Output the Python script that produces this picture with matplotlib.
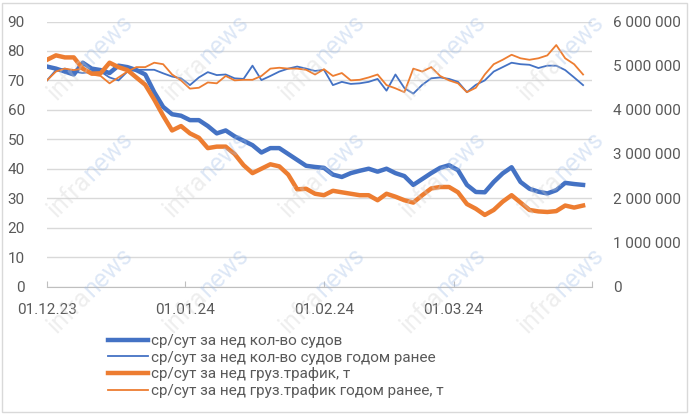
import numpy as np
import pandas as pd
import matplotlib
matplotlib.use('Agg')
import matplotlib.pyplot as plt
from matplotlib.ticker import FuncFormatter, MultipleLocator
from matplotlib.patches import Rectangle

plt.rcParams['font.family'] = ['Roboto', 'DejaVu Sans']
plt.rcParams['font.size'] = 11

# ==================== данные (каждые 2 дня) ====================
dates = pd.date_range('2023-12-01', periods=61, freq='2D')

# ср/сут за нед кол-во судов (левая ось)
ships = [74.7, 74, 73, 72, 76, 74, 73.5, 72.5, 75, 74.5, 73.5, 72,
         66, 61, 58.5, 58, 56.5, 56.5, 54.5, 52, 53, 51, 49.5, 48, 45.5,
         47, 47, 45, 43, 41, 40.6, 40.3, 38, 37.2, 38.5, 39.3, 40, 39,
         40, 38.5, 37.5, 34.5, 36.5, 38.5, 40.3, 41.2, 39.5, 34.5, 32.1,
         32, 35.5, 38.4, 40.5, 35.5, 33.2, 32.2, 31.6, 32.7, 35.2, 34.8, 34.5]

# ср/сут за нед кол-во судов годом ранее (левая ось)
ships_ly = [70, 73.5, 74, 73, 72.5, 73, 73, 71, 70, 73, 73.6, 73.6,
            73.6, 72.4, 71.3, 70.7, 68.4, 71, 72.8, 71.8, 72, 70.7, 70.5,
            75, 70.1, 71.5, 73, 74, 74.7, 74, 73.2, 73.6, 68.4, 69.5, 68.8,
            69, 69.5, 70.5, 66.5, 72, 67.4, 65.5, 68.5, 70.7, 71, 70.5, 69.5,
            66, 68.5, 70, 73, 74.5, 76, 75.5, 75.3, 74.2, 75, 75, 73.5, 71, 68.4]

# ср/сут за нед груз.трафик, т (правая ось)
cargo = [5133000, 5233000, 5187000, 5187000, 4933000, 4820000, 4827000,
         5067000, 4967000, 4900000, 4733000, 4567000, 4233000, 3867000,
         3533000, 3633000, 3467000, 3367000, 3133000, 3167000, 3167000,
         3000000, 2747000, 2567000, 2667000, 2767000, 2720000, 2533000,
         2200000, 2213000, 2100000, 2067000, 2167000, 2133000, 2100000,
         2067000, 2067000, 1953000, 2100000, 2033000, 1953000, 1900000,
         2067000, 2220000, 2253000, 2253000, 2133000, 1867000, 1760000,
         1620000, 1733000, 1920000, 2067000, 1900000, 1733000, 1700000,
         1687000, 1707000, 1833000, 1787000, 1833000]

# ср/сут за нед груз.трафик годом ранее, т (правая ось)
cargo_ly = [4667000, 4867000, 4933000, 4900000, 4933000, 4800000, 4767000,
            4600000, 4733000, 4867000, 4967000, 4967000, 5067000, 5033000,
            4800000, 4667000, 4480000, 4500000, 4620000, 4600000, 4767000,
            4667000, 4680000, 4680000, 4767000, 4933000, 4953000, 4933000,
            4933000, 4907000, 4800000, 4920000, 4767000, 4833000, 4667000,
            4680000, 4733000, 4800000, 4560000, 4487000, 4400000, 4933000,
            4867000, 4967000, 4767000, 4667000, 4600000, 4400000, 4500000,
            4800000, 5033000, 5133000, 5247000, 5167000, 5133000, 5167000,
            5233000, 5467000, 5167000, 5033000, 4800000]

labels = ['ср/сут за нед кол-во судов',
          'ср/сут за нед кол-во судов годом ранее',
          'ср/сут за нед груз.трафик, т',
          'ср/сут за нед груз.трафик годом ранее, т']

month_ticks = pd.to_datetime(['2023-12-01', '2024-01-01', '2024-02-01',
                              '2024-03-01', '2024-04-01'])
month_labels = ['01.12.23', '01.01.24', '01.02.24', '01.03.24', '']

BLUE = '#4472C4'
ORANGE = '#ED7D31'
GREY_TXT = '#595959'
GRID = '#D9D9D9'

# ==================== рисунок ====================
W, H = 690, 415
fig = plt.figure(figsize=(W / 100, H / 100), dpi=100)
ax = fig.add_axes([47 / W, 1 - 286.5 / H, (592 - 47) / W, (286.5 - 21.5) / H])
ax2 = ax.twinx()

l1, = ax.plot(dates, ships, color=BLUE, lw=3.2, solid_joinstyle='round')
l2, = ax.plot(dates, ships_ly, color=BLUE, lw=1.3)
l3, = ax2.plot(dates, cargo, color=ORANGE, lw=3.2, solid_joinstyle='round')
l4, = ax2.plot(dates, cargo_ly, color=ORANGE, lw=1.3)

ax.set_ylim(0, 90)
ax.yaxis.set_major_locator(MultipleLocator(10))
ax2.set_ylim(0, 6000000)
ax2.yaxis.set_major_locator(MultipleLocator(1000000))
ax2.yaxis.set_major_formatter(FuncFormatter(lambda v, p: f'{int(v):,}'.replace(',', ' ')))

ax.set_xlim(month_ticks[0], month_ticks[-1])
ax.set_xticks(month_ticks)
ax.set_xticklabels(month_labels)

ax.grid(axis='y', color=GRID, lw=1.0)
ax.set_axisbelow(True)
for a in (ax, ax2):
    for s in ('top', 'left', 'right', 'bottom'):
        a.spines[s].set_visible(False)
ax.spines['bottom'].set_visible(True)
ax.spines['bottom'].set_color('#BFBFBF')

ax.tick_params(axis='x', direction='in', length=4, color='#BFBFBF',
               labelcolor=GREY_TXT, pad=12)
ax.tick_params(axis='y', length=0, labelcolor=GREY_TXT, pad=16)
ax2.tick_params(axis='y', length=0, labelcolor=GREY_TXT, pad=15)

fig.legend([l1, l2, l3, l4], labels, loc='center left',
           bbox_to_anchor=(108 / W, 1 - 366 / H), frameon=False,
           borderpad=0, borderaxespad=0, handlelength=2.6,
           handletextpad=0.2, labelspacing=0.18, fontsize=11,
           labelcolor=GREY_TXT)

# водяные знаки
for wx in (87, 203, 319, 440, 558):
    for wy in (60, 177, 293):
        fig.text(wx / W, 1 - wy / H, 'infra', color='#D0D0D0', alpha=0.35,
                 fontsize=18, rotation=45, rotation_mode='anchor',
                 ha='right', va='center')
        fig.text(wx / W, 1 - wy / H, 'news', color='#9DBBE6', alpha=0.35,
                 fontsize=18, rotation=45, rotation_mode='anchor',
                 ha='left', va='center')

# рамка
fig.patches.append(Rectangle((2 / W, 3 / H), 685 / W, 409 / H,
                             transform=fig.transFigure, fill=False,
                             edgecolor='#D9D9D9', lw=1.0))

fig.savefig('out.png', dpi=100)
